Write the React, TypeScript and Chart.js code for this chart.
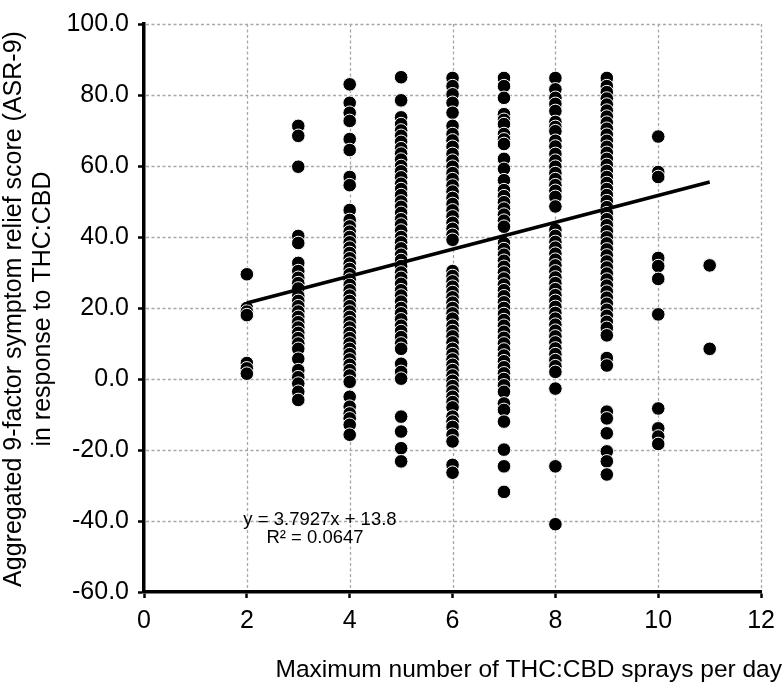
import React, { useEffect, useRef } from "react";
import { Chart, registerables } from "chart.js";

Chart.register(...registerables);

// Symptom relief scores (ASR-9) by maximum number of sprays per day
const sprays2 = [29.5, 20.0, 19.0, 18.0, 4.5, 3.0, 1.5];
const sprays3 = [71.3, 68.5, 59.8, 40.3, 38.3, 32.7, 30.4, 28.5, 27.0, 25.5, 23.4, 22.0, 20.5, 19.0, 17.5, 16.0, 14.5, 13.0, 11.5, 10.0, 8.5, 5.7, 2.5, 0.5, -1.3, -3.6, -5.9];
const sprays4 = [83.0, 77.8, 75.0, 72.7, 67.6, 64.5, 56.9, 54.6, 47.6, 44.8, 43.0, 41.5, 40.0, 38.5, 37.0, 35.5, 34.0, 32.5, 31.0, 29.5, 28.0, 26.5, 25.0, 23.5, 22.0, 20.5, 19.0, 17.5, 16.0, 14.5, 13.0, 11.5, 10.0, 8.5, 7.0, 5.5, 4.0, 2.5, 1.0, -0.8, -5.0, -7.8, -9.7, -11.1, -12.9, -15.7];
const sprays5 = [85.0, 78.5, 73.7, 71.8, 70.0, 68.5, 66.8, 65.0, 63.5, 61.8, 60.0, 58.5, 56.8, 55.0, 53.5, 51.8, 50.0, 48.5, 46.8, 45.0, 43.5, 41.8, 40.0, 38.5, 36.8, 35.0, 33.5, 31.8, 30.0, 28.5, 26.8, 25.0, 23.5, 21.8, 20.0, 18.5, 16.8, 15.0, 13.5, 11.8, 10.0, 8.5, 4.3, 2.0, 0.1, -10.6, -14.8, -19.5, -23.2];
const sprays6 = [84.8, 82.5, 80.2, 77.8, 75.0, 71.3, 69.0, 67.2, 65.4, 63.4, 61.5, 59.8, 58.0, 56.3, 54.5, 52.8, 51.0, 49.3, 47.5, 45.8, 44.0, 42.3, 40.6, 39.2, 30.4, 29.0, 27.5, 26.0, 24.5, 23.0, 21.5, 20.0, 18.5, 17.0, 15.0, 13.5, 12.0, 10.3, 8.5, 7.0, 5.5, 4.0, 2.5, 1.0, -0.5, -2.0, -3.5, -5.0, -6.5, -8.0, -10.6, -12.0, -13.5, -15.7, -17.6, -24.2, -26.4];
const sprays7 = [84.8, 82.5, 79.2, 74.6, 73.0, 71.8, 69.0, 67.5, 66.2, 62.0, 59.2, 56.0, 53.2, 51.5, 49.8, 48.0, 46.3, 44.6, 42.9, 38.3, 36.6, 35.0, 33.3, 31.6, 30.0, 28.3, 26.6, 25.0, 23.3, 21.6, 20.0, 18.3, 16.6, 15.0, 13.3, 11.6, 10.0, 8.3, 6.6, 5.0, 3.3, 1.6, 0.0, -1.8, -3.6, -6.9, -8.7, -12.0, -19.9, -24.6, -31.8];
const sprays8 = [84.8, 81.6, 79.2, 77.5, 75.5, 72.4, 71.0, 69.8, 67.1, 65.5, 63.4, 61.5, 59.8, 58.0, 56.3, 54.6, 53.0, 51.3, 48.6, 42.0, 40.3, 38.6, 37.0, 35.3, 33.6, 32.0, 30.3, 28.6, 27.0, 25.3, 23.6, 22.0, 20.3, 18.6, 17.0, 15.3, 13.6, 12.0, 10.3, 8.6, 7.0, 5.3, 3.6, 2.0, -2.7, -24.6, -40.9];
const sprays9 = [84.8, 82.5, 80.8, 79.0, 77.3, 75.6, 73.9, 72.2, 70.5, 68.8, 67.1, 65.4, 63.7, 62.0, 60.3, 58.6, 56.9, 55.2, 53.5, 51.8, 50.1, 48.4, 46.7, 45.0, 43.3, 41.6, 39.9, 38.2, 36.5, 34.8, 33.1, 31.4, 29.7, 28.0, 26.3, 24.6, 22.9, 21.2, 19.5, 17.8, 16.1, 14.4, 12.3, 5.9, 3.8, -9.2, -11.1, -15.3, -20.4, -23.2, -26.9];
const sprays10 = [68.3, 58.3, 56.9, 34.1, 31.8, 28.2, 18.2, -8.3, -13.9, -16.2, -18.3];
const sprays11 = [32.0, 8.5];

const sprayCounts = [2, 3, 4, 5, 6, 7, 8, 9, 10, 11];
const scoreColumns = [sprays2, sprays3, sprays4, sprays5, sprays6, sprays7, sprays8, sprays9, sprays10, sprays11];

// Linear trend line: y = 3.7927x + 13.8
const trendX = [2, 11];
const trendY = [21.4, 55.5];

const xTicks = [0, 2, 4, 6, 8, 10, 12];
const yTicks = [-60, -40, -20, 0, 20, 40, 60, 80, 100];

const xTitle = "Maximum number of THC:CBD sprays per day";
const yTitle1 = "Aggregated 9-factor symptom relief score (ASR-9)";
const yTitle2 = "in response to THC:CBD";
const eqLine1 = "y = 3.7927x + 13.8";
const eqLine2 = "R² = 0.0647";

const FONT = '"Liberation Sans", Arial, Helvetica, sans-serif';

export default function App() {
  const ref = useRef<HTMLCanvasElement | null>(null);

  useEffect(() => {
    const canvas = ref.current;
    if (!canvas) return;

    const points: { x: number; y: number }[] = [];
    sprayCounts.forEach((s, i) => {
      scoreColumns[i].forEach((v) => points.push({ x: s, y: v }));
    });

    const gridPlugin = {
      id: "dottedGrid",
      beforeDatasetsDraw(chart: any) {
        const { ctx, chartArea, scales } = chart;
        ctx.save();
        ctx.strokeStyle = "#a8a8a8";
        ctx.lineWidth = 1.3;
        ctx.setLineDash([3, 2.5]);
        xTicks.forEach((v) => {
          if (v === xTicks[0]) return;
          const px = Math.round(scales.x.getPixelForValue(v)) + 0.5;
          ctx.beginPath();
          ctx.moveTo(px, chartArea.top);
          ctx.lineTo(px, chartArea.bottom - 2);
          ctx.stroke();
        });
        yTicks.forEach((v) => {
          if (v === yTicks[0]) return;
          const py = Math.round(scales.y.getPixelForValue(v)) + 0.5;
          ctx.beginPath();
          ctx.moveTo(chartArea.left + 2, py);
          ctx.lineTo(chartArea.right, py);
          ctx.stroke();
        });
        ctx.restore();
      },
    };

    const textPlugin = {
      id: "textPlugin",
      afterDraw(chart: any) {
        const ctx = chart.ctx;
        ctx.save();
        ctx.fillStyle = "#000";
        ctx.font = `24.5px ${FONT}`;
        ctx.textAlign = "right";
        ctx.textBaseline = "alphabetic";
        ctx.fillText(xTitle, 782, 677);

        ctx.save();
        ctx.translate(21, 309);
        ctx.rotate(-Math.PI / 2);
        ctx.textAlign = "center";
        ctx.font = `25px ${FONT}`;
        ctx.fillText(yTitle1, 0, 0);
        ctx.fillText(yTitle2, 0, 29);
        ctx.restore();

        ctx.font = `18.5px ${FONT}`;
        ctx.textAlign = "center";
        ctx.fillText(eqLine1, 320, 525);
        ctx.fillText(eqLine2, 315, 543);
        ctx.restore();
      },
    };

    const chart = new Chart(canvas, {
      type: "scatter",
      data: {
        datasets: [
          {
            type: "line",
            data: trendX.map((x, i) => ({ x, y: trendY[i] })),
            borderColor: "#000",
            borderWidth: 3.5,
            pointRadius: 0,
            fill: false,
            order: 0,
          } as any,
          {
            type: "scatter",
            data: points,
            backgroundColor: "#000",
            borderColor: "#fff",
            borderWidth: 1,
            pointRadius: 6.8,
            order: 1,
          },
        ],
      },
      options: {
        responsive: false,
        animation: false,
        layout: { padding: { left: 0, top: 19, right: 16, bottom: 0 } },
        plugins: {
          legend: { display: false },
          tooltip: { enabled: false },
          title: { display: false },
        },
        scales: {
          x: {
            type: "linear",
            min: 0,
            max: 12,
            afterFit(scale: any) {
              scale.height = 91;
            },
            afterBuildTicks(scale: any) {
              scale.ticks = xTicks.map((v) => ({ value: v }));
            },
            ticks: {
              color: "#000",
              font: { size: 25, family: FONT },
              padding: 8,
              maxRotation: 0,
              callback: (v: any) => String(v),
            },
            grid: {
              drawOnChartArea: false,
              color: "#000",
              tickColor: "#000",
              tickWidth: 2.5,
              tickLength: 6,
            },
            border: { color: "#000", width: 3.5 },
          },
          y: {
            type: "linear",
            min: -60,
            max: 100,
            afterFit(scale: any) {
              scale.width = 144;
            },
            afterBuildTicks(scale: any) {
              scale.ticks = yTicks.map((v) => ({ value: v }));
            },
            ticks: {
              color: "#000",
              font: { size: 25, family: FONT },
              padding: 9,
              callback: (v: any) => Number(v).toFixed(1),
            },
            grid: {
              drawOnChartArea: false,
              color: "#000",
              tickColor: "#000",
              tickWidth: 2.5,
              tickLength: 6,
            },
            border: { color: "#000", width: 3.5 },
          },
        },
      },
      plugins: [gridPlugin, textPlugin],
    });

    return () => chart.destroy();
  }, []);

  return (
    <div style={{ position: "absolute", left: 0, top: 0, width: 783, height: 683, background: "#fff" }}>
      <canvas ref={ref} width={783} height={683} style={{ display: "block" }} />
    </div>
  );
}
